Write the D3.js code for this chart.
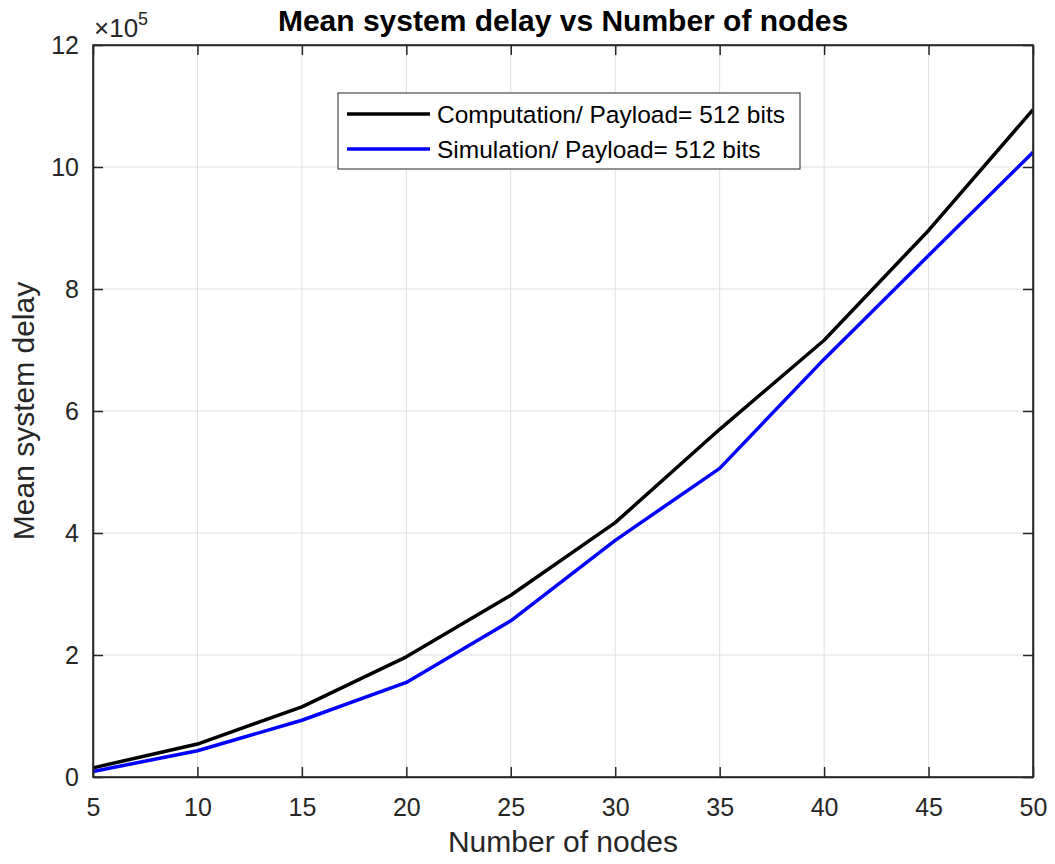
<!DOCTYPE html>
<html><head><meta charset="utf-8">
<script src="https://cdn.jsdelivr.net/npm/d3@7"></script>
<style>body{margin:0;background:#fff;}text{font-family:"Liberation Sans",Arial,sans-serif;}</style>
</head><body>
<svg id="chart" width="1055" height="864"></svg>
<script>
const nodes = [5,10,15,20,25,30,35,40,45,50];
const computation = [0.15,0.54,1.15,1.97,2.98,4.17,5.70,7.16,8.96,10.94];
const simulation = [0.09,0.43,0.93,1.55,2.56,3.88,5.06,6.85,8.55,10.24];
const xTicks = [5,10,15,20,25,30,35,40,45,50];
const yTicks = [0,2,4,6,8,10,12];
const seriesNames = ["Computation/ Payload= 512 bits","Simulation/ Payload= 512 bits"];
const seriesColors = ["#000000","#0000ff"];

const svg = d3.select("#chart");
const L=93,R=1033,T=45,B=777;
const x = d3.scaleLinear().domain([5,50]).range([L,R]);
const y = d3.scaleLinear().domain([0,12]).range([B,T]);
const axc="#262626";

// grid
svg.append("g").selectAll("line").data(xTicks).join("line")
  .attr("x1",d=>x(d)).attr("x2",d=>x(d)).attr("y1",T).attr("y2",B)
  .attr("stroke","#dfdfdf").attr("stroke-width",1);
svg.append("g").selectAll("line").data(yTicks).join("line")
  .attr("y1",d=>y(d)).attr("y2",d=>y(d)).attr("x1",L).attr("x2",R)
  .attr("stroke","#dfdfdf").attr("stroke-width",1);

// data lines
const line = d3.line().x((d,i)=>x(nodes[i])).y(d=>y(d));
[computation,simulation].forEach((s,k)=>{
  svg.append("path").datum(s).attr("d",line).attr("fill","none")
    .attr("stroke",seriesColors[k]).attr("stroke-width",3.5).attr("stroke-linejoin","round");
});

// axes (box) with inward ticks
const gx = svg.append("g").attr("transform",`translate(0,${B})`)
  .call(d3.axisBottom(x).tickValues(xTicks).tickSizeInner(-10).tickSizeOuter(0).tickPadding(21));
const gxt = svg.append("g").attr("transform",`translate(0,${T})`)
  .call(d3.axisTop(x).tickValues(xTicks).tickSizeInner(-10).tickSizeOuter(0).tickFormat(""));
const gy = svg.append("g").attr("transform",`translate(${L},0)`)
  .call(d3.axisLeft(y).tickValues(yTicks).tickSizeInner(-10).tickSizeOuter(0).tickPadding(14));
const gyr = svg.append("g").attr("transform",`translate(${R},0)`)
  .call(d3.axisRight(y).tickValues(yTicks).tickSizeInner(-10).tickSizeOuter(0).tickFormat(""));
[gx,gxt,gy,gyr].forEach(g=>{
  g.select(".domain").attr("stroke",axc).attr("stroke-width",1.5);
  g.selectAll(".tick line").attr("stroke",axc).attr("stroke-width",1.5);
  g.selectAll(".tick text").attr("fill",axc).style("font-size","25px").style("font-family","Liberation Sans, Arial, sans-serif");
});
gx.selectAll(".tick text").attr("dy","0.71em");
gy.selectAll(".tick text").attr("dy","0.35em");
svg.append("rect").attr("x",L).attr("y",T).attr("width",R-L).attr("height",B-T)
  .attr("fill","none").attr("stroke",axc).attr("stroke-width",1.5);

// exponent
const ex = svg.append("text").attr("x",94).attr("y",37).attr("fill",axc).style("font-size","26px");
ex.append("tspan").text("\u00d710");
ex.append("tspan").attr("dy",-12).style("font-size","18px").text("5");

// title
svg.append("text").attr("x",(L+R)/2).attr("y",31).attr("text-anchor","middle")
  .style("font-size","30px").style("font-weight","bold").attr("fill","#000").text("Mean system delay vs Number of nodes");
// axis labels
svg.append("text").attr("x",(L+R)/2).attr("y",852).attr("text-anchor","middle")
  .style("font-size","30px").attr("fill",axc).text("Number of nodes");
svg.append("text").attr("transform",`translate(34,${(T+B)/2}) rotate(-90)`).attr("text-anchor","middle")
  .style("font-size","30px").attr("fill",axc).text("Mean system delay");

// legend
const lg = svg.append("g");
lg.append("rect").attr("x",338).attr("y",93).attr("width",462).attr("height",76)
  .attr("fill","#fff").attr("stroke","#262626").attr("stroke-width",1);
seriesNames.forEach((n,k)=>{
  const yy = 114 + k*35;
  lg.append("line").attr("x1",347).attr("x2",430).attr("y1",yy).attr("y2",yy)
    .attr("stroke",seriesColors[k]).attr("stroke-width",3.5);
  lg.append("text").attr("x",437).attr("y",yy).attr("dy","0.35em").style("font-size","24.5px")
    .attr("fill","#000").text(n);
});
</script>
</body></html>
